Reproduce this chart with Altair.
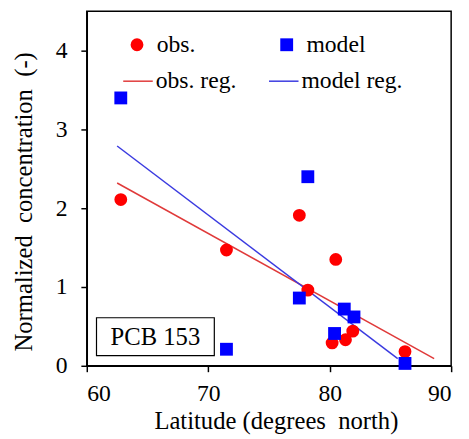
import altair as alt
import pandas as pd

# observations (red circles)
obs_lat = [62.8, 71.5, 77.5, 78.2, 80.5, 80.2, 81.3, 81.9, 86.2]
obs_val = [2.11, 1.47, 1.91, 0.96, 1.35, 0.29, 0.33, 0.44, 0.18]
# model (blue squares)
mod_lat = [62.8, 71.5, 78.2, 77.5, 80.4, 81.2, 82.0, 86.2]
mod_val = [3.40, 0.21, 2.40, 0.86, 0.41, 0.72, 0.62, 0.03]
# regression line end points
obs_reg_lat = [62.5, 88.6]
obs_reg_val = [2.32, 0.09]
mod_reg_lat = [62.5, 85.6]
mod_reg_val = [2.79, 0.09]
# annotation box
box_lat = [60.8, 70.5]
box_val = [0.13, 0.61]
box_label = "PCB 153"

x_title = "Latitude (degrees\u00a0 north)"
y_title = "Normalized\u00a0 concentration\u00a0 (-)"

FONT = "Times New Roman, Liberation Serif, Times, DejaVu Serif, serif"
RED = "#ff0000"
BLUE = "#0000ff"
RED_LINE = "#e03a3a"
BLUE_LINE = "#3a3ae0"

pts = pd.DataFrame(
    {"lat": obs_lat + mod_lat,
     "val": obs_val + mod_val,
     "series": ["obs."] * len(obs_lat) + ["model"] * len(mod_lat)}
)
lines = pd.DataFrame(
    {"lat": obs_reg_lat + mod_reg_lat,
     "val": obs_reg_val + mod_reg_val,
     "series": ["obs. reg."] * 2 + ["model reg."] * 2}
)
box = pd.DataFrame({"x": [box_lat[0]], "x2": [box_lat[1]], "y": [box_val[0]], "y2": [box_val[1]],
                    "tx": [(box_lat[0] + box_lat[1]) / 2], "ty": [(box_val[0] + box_val[1]) / 2],
                    "label": [box_label]})

xs = alt.Scale(domain=[60, 90], nice=False, zero=False)
ys = alt.Scale(domain=[0, 4.5], nice=False)
xax = alt.Axis(values=[60, 70, 80, 90], format="d", title=x_title, grid=False,
               labelPadding=10, titleX=192, titleY=44)
yax = alt.Axis(values=[0, 1, 2, 3, 4], format="d", title=y_title, grid=False,
               labelPadding=14, titleX=-51, titleY=193)

pt_legend = alt.Legend(title=None, orient="none", legendX=39, legendY=22, columns=2,
                       columnPadding=80, symbolSize=170, labelOffset=8)

line_layer = alt.Chart(lines).mark_line(strokeWidth=1.5).encode(
    x=alt.X("lat:Q", scale=xs, axis=xax),
    y=alt.Y("val:Q", scale=ys, axis=yax),
    stroke=alt.Stroke("series:N",
                      scale=alt.Scale(domain=["obs. reg.", "model reg."], range=[RED_LINE, BLUE_LINE]),
                      legend=alt.Legend(title=None, orient="none", legendX=36, legendY=55, columns=2,
                                        columnPadding=30, symbolType="stroke", symbolSize=900,
                                        symbolStrokeWidth=1.5, labelOffset=2)),
    detail="series:N",
)

point_layer = alt.Chart(pts).mark_point(filled=True, opacity=1).encode(
    x=alt.X("lat:Q", scale=xs),
    y=alt.Y("val:Q", scale=ys),
    shape=alt.Shape("series:N",
                    scale=alt.Scale(domain=["obs.", "model"], range=["circle", "square"]),
                    legend=pt_legend),
    color=alt.Color("series:N",
                    scale=alt.Scale(domain=["obs.", "model"], range=[RED, BLUE]),
                    legend=pt_legend),
    size=alt.value(170),
)

box_layer = alt.Chart(box).mark_rect(fill="white", stroke="black", strokeWidth=1.2).encode(
    x="x:Q", x2="x2", y="y:Q", y2="y2"
)
text_layer = alt.Chart(box).mark_text(font=FONT, fontSize=25, color="black").encode(
    x="tx:Q", y="ty:Q", text="label:N"
)

chart = alt.layer(line_layer, point_layer, box_layer, text_layer).properties(
    width=370, height=360,
    autosize=alt.AutoSizeParams(type="none"),
    padding={"left": 80, "top": 0, "right": 10, "bottom": 70},
).configure_view(
    stroke="black", strokeWidth=1.5
).configure_axis(
    labelFont=FONT, titleFont=FONT, labelFontSize=24, titleFontSize=25,
    labelColor="black", titleColor="black", titleFontWeight="normal",
    domainColor="black", tickColor="black", domainWidth=1.5, tickWidth=1.5, tickSize=6,
).configure_legend(
    labelFont=FONT, labelFontSize=24, labelColor="black"
)

chart.save("out.html", embed_options={"renderer": "svg", "actions": False})
